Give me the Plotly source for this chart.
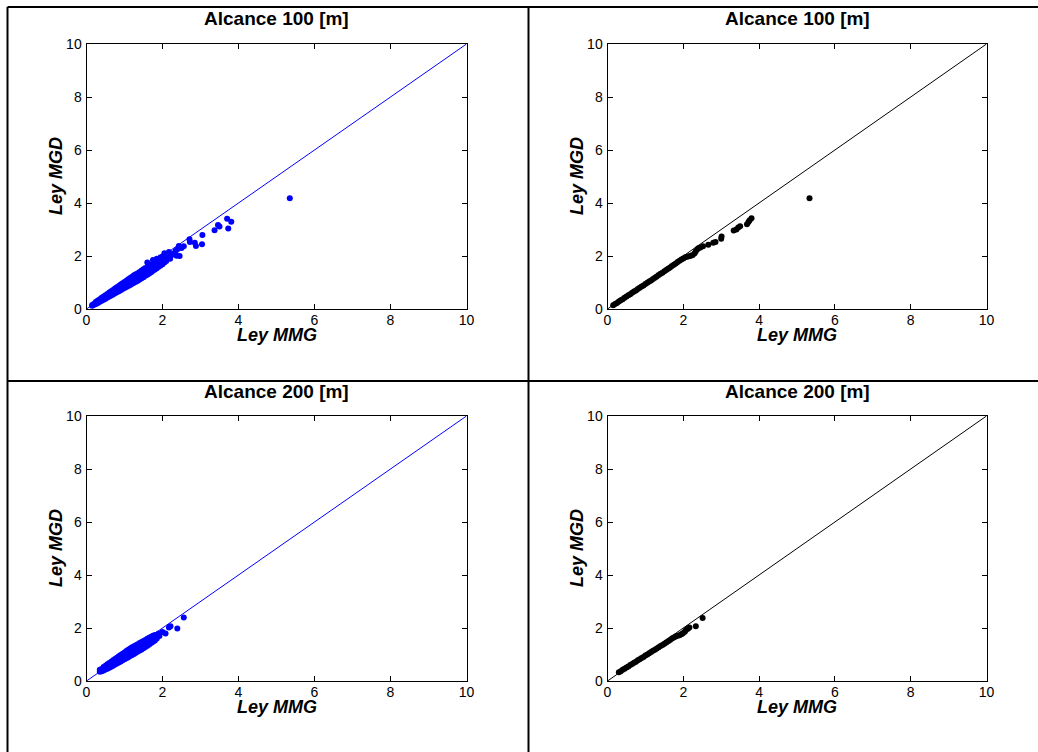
import plotly.graph_objects as go

# ---------------- data ----------------
# Top-left: Alcance 100 [m], point cloud (blue)
TL_x = [0.15,0.15,0.2,0.2,0.25,0.25,0.25,0.3,0.3,0.3,0.35,0.35,0.35,0.4,0.4,0.4,0.45,0.45,0.45,0.5,0.5,0.5,
        0.55,0.55,0.55,0.6,0.6,0.6,0.65,0.65,0.65,0.7,0.7,0.7,0.75,0.75,0.75,0.8,0.8,0.8,0.85,0.85,0.85,
        0.9,0.9,0.9,0.95,0.95,0.95,1.0,1.0,1.0,1.05,1.05,1.05,1.1,1.1,1.1,1.15,1.15,1.15,1.2,1.2,1.2,
        1.25,1.25,1.25,1.3,1.3,1.3,1.35,1.35,1.35,1.4,1.4,1.4,1.45,1.45,1.45,1.5,1.5,1.5,1.55,1.55,1.55,
        1.6,1.6,1.6,1.65,1.65,1.65,1.7,1.7,1.7,1.75,1.75,1.75,1.8,1.8,1.8,1.85,1.85,1.85,1.9,1.9,1.9,
        1.95,1.95,1.95,2.0,2.0,2.0,2.05,2.05,2.05,2.1,2.1,
        2.15,2.17,2.2,2.21,2.25,2.3,2.35,2.37,2.4,2.43,2.45,2.5,2.56,2.71,2.72,2.85,2.88,3.04,3.05,
        3.37,3.46,3.5,3.7,3.73,3.81,5.35]
TL_y = [0.12,0.15,0.16,0.2,0.19,0.24,0.27,0.23,0.28,0.32,0.27,0.32,0.37,0.31,0.37,0.42,0.35,0.41,0.47,0.39,0.46,0.52,
        0.43,0.5,0.57,0.47,0.55,0.62,0.51,0.59,0.67,0.55,0.64,0.72,0.59,0.68,0.77,0.63,0.73,0.82,0.67,0.77,0.87,
        0.71,0.82,0.92,0.75,0.86,0.97,0.79,0.9,1.02,0.83,0.95,1.07,0.87,0.99,1.12,0.91,1.04,1.17,0.95,1.08,1.22,
        0.99,1.13,1.27,1.03,1.17,1.31,1.07,1.22,1.35,1.11,1.26,1.4,1.16,1.31,1.45,1.2,1.35,1.5,1.25,1.4,1.55,
        1.29,1.44,1.75,1.34,1.49,1.62,1.39,1.53,1.68,1.44,1.58,1.85,1.49,1.62,1.78,1.54,1.68,1.9,1.59,1.73,1.88,
        1.64,1.78,1.95,1.69,1.82,1.98,1.75,1.88,2.1,1.81,1.95,
        1.95,2.15,1.9,2.0,2.05,2.1,2.2,2.01,2.26,2.38,2.0,2.3,2.37,2.63,2.53,2.5,2.38,2.44,2.79,
        2.97,3.17,3.11,3.41,3.04,3.29,4.18]

# Top-right: Alcance 100 [m], sorted pairs (black)
TR_x = [0.15,0.2,0.25,0.3,0.35,0.4,0.45,0.5,0.55,0.6,0.65,0.7,0.75,0.8,0.85,0.9,0.95,1.0,1.05,1.1,
        1.15,1.2,1.25,1.3,1.35,1.4,1.45,1.5,1.55,1.6,1.65,1.7,1.75,1.8,1.85,1.9,1.95,2.0,2.05,2.1,
        2.15,2.2,2.25,2.3,2.33,2.37,2.4,2.45,2.52,2.66,2.79,2.85,3.0,3.01,3.33,3.4,3.45,3.5,3.68,3.72,
        3.75,3.8,5.33]
TR_y = [0.14,0.19,0.23,0.28,0.33,0.37,0.42,0.47,0.52,0.56,0.61,0.66,0.7,0.75,0.8,0.85,0.89,0.94,0.99,1.04,
        1.08,1.13,1.18,1.23,1.28,1.33,1.37,1.42,1.47,1.52,1.57,1.62,1.67,1.72,1.77,1.82,1.87,1.91,1.95,1.97,
        1.99,2.01,2.04,2.1,2.18,2.25,2.29,2.32,2.37,2.42,2.5,2.53,2.65,2.74,2.96,3.0,3.08,3.12,3.2,3.28,
        3.35,3.42,4.18]

# Bottom-left: Alcance 200 [m], point cloud (blue)
BL_x = [0.35,0.35,0.4,0.4,0.45,0.45,0.45,0.5,0.5,0.5,0.55,0.55,0.55,0.6,0.6,0.6,0.65,0.65,0.65,0.7,0.7,0.7,
        0.75,0.75,0.75,0.8,0.8,0.8,0.85,0.85,0.85,0.9,0.9,0.9,0.95,0.95,0.95,1.0,1.0,1.0,1.05,1.05,1.05,
        1.1,1.1,1.1,1.15,1.15,1.15,1.2,1.2,1.2,1.25,1.25,1.25,1.3,1.3,1.3,1.35,1.35,1.35,1.4,1.4,1.4,
        1.45,1.45,1.45,1.5,1.5,1.5,1.55,1.55,1.55,1.6,1.6,1.6,1.65,1.65,1.65,1.7,1.7,1.7,1.75,1.75,1.75,
        1.8,1.8,1.8,1.85,1.85,1.9,1.92,2.0,2.08,2.17,2.21,2.39,2.56]
BL_y = [0.35,0.42,0.37,0.45,0.4,0.47,0.53,0.43,0.51,0.58,0.46,0.55,0.63,0.5,0.59,0.68,0.54,0.63,0.73,0.58,0.67,0.78,
        0.62,0.71,0.83,0.66,0.76,0.88,0.7,0.8,0.93,0.74,0.84,0.98,0.78,0.88,1.03,0.82,0.93,1.08,0.86,0.97,1.13,
        0.9,1.01,1.18,0.94,1.06,1.23,0.98,1.1,1.27,1.02,1.15,1.31,1.07,1.19,1.35,1.11,1.24,1.39,1.15,1.28,1.43,
        1.19,1.33,1.47,1.24,1.37,1.51,1.28,1.42,1.55,1.33,1.46,1.59,1.38,1.5,1.63,1.43,1.55,1.67,1.48,1.6,1.71,
        1.53,1.64,1.74,1.6,1.7,1.79,1.7,1.85,1.79,2.02,2.07,1.98,2.4]

# Bottom-right: Alcance 200 [m], sorted pairs (black)
BR_x = [0.3,0.35,0.4,0.45,0.5,0.55,0.6,0.65,0.7,0.75,0.8,0.85,0.9,0.95,1.0,1.05,1.1,1.15,1.2,1.25,
        1.3,1.35,1.4,1.45,1.5,1.55,1.6,1.65,1.7,1.75,1.8,1.85,1.9,1.95,1.99,2.04,2.07,2.12,2.16,2.33,2.51]
BR_y = [0.33,0.37,0.42,0.46,0.51,0.55,0.6,0.64,0.69,0.73,0.78,0.82,0.87,0.91,0.96,1.0,1.05,1.09,1.14,1.18,
        1.23,1.27,1.32,1.36,1.41,1.45,1.5,1.55,1.6,1.64,1.68,1.71,1.73,1.76,1.8,1.86,1.92,1.97,2.02,2.07,2.38]

REF = [0, 10]
TICKS = [0, 2, 4, 6, 8, 10]
TITLES = ["Alcance 100 [m]", "Alcance 100 [m]", "Alcance 200 [m]", "Alcance 200 [m]"]
XLABEL = "Ley MMG"
YLABEL = "Ley MGD"

W, H = 1038, 752
FONT = "Arial, Liberation Sans, Helvetica, sans-serif"

# panel pixel boxes: (left, right, top, bottom)
boxes = [(86.5, 466.5, 44, 309), (607.5, 986.5, 44, 309),
         (86.5, 466.5, 416, 681), (607.5, 986.5, 416, 681)]
panels = [(TL_x, TL_y, "#0000ff"), (TR_x, TR_y, "#000000"),
          (BL_x, BL_y, "#0000ff"), (BR_x, BR_y, "#000000")]

fig = go.Figure()
annotations = []
layout = {}
for i, ((px, py, col), (l, r, t, b)) in enumerate(zip(panels, boxes)):
    n = "" if i == 0 else str(i + 1)
    xa, ya = "x" + n, "y" + n
    fig.add_trace(go.Scatter(x=REF, y=REF, mode="lines", line=dict(color=col, width=1),
                             xaxis=xa, yaxis=ya, showlegend=False, hoverinfo="skip"))
    fig.add_trace(go.Scatter(x=px, y=py, mode="markers", marker=dict(color=col, size=6, line=dict(width=0)),
                             xaxis=xa, yaxis=ya, showlegend=False))
    common = dict(range=[0, 10], tickvals=TICKS, ticks="inside", ticklen=5, tickwidth=1,
                  tickcolor="black", showline=True, linecolor="black", linewidth=1, mirror="ticks",
                  showgrid=False, zeroline=False, tickfont=dict(family=FONT, size=14, color="black"),
                  fixedrange=True, automargin=False)
    layout["xaxis" + n] = dict(common, domain=[l / W, r / W], anchor=ya, ticklabelstandoff=-2)
    layout["yaxis" + n] = dict(common, domain=[1 - b / H, 1 - t / H], anchor=xa, ticklabelstandoff=1)
    cx = (l + r) / 2
    annotations.append(dict(text="<b>%s</b>" % TITLES[i], x=cx / W, y=1 - (t - 25) / H,
                            xref="paper", yref="paper", xanchor="center", yanchor="middle",
                            showarrow=False, font=dict(family=FONT, size=19, color="black")))
    annotations.append(dict(text="<b><i>%s</i></b>" % XLABEL, x=cx / W, y=1 - (b + 26) / H,
                            xref="paper", yref="paper", xanchor="center", yanchor="middle",
                            showarrow=False, font=dict(family=FONT, size=18, color="black")))
    annotations.append(dict(text="<b><i>%s</i></b>" % YLABEL, x=(l - 31) / W, y=1 - ((t + b) / 2) / H,
                            xref="paper", yref="paper", xanchor="center", yanchor="middle",
                            textangle=-90, showarrow=False,
                            font=dict(family=FONT, size=18, color="black")))

shapes = []
def line(x0, y0, x1, y1):
    shapes.append(dict(type="line", xref="paper", yref="paper",
                       x0=x0 / W, y0=1 - y0 / H, x1=x1 / W, y1=1 - y1 / H,
                       line=dict(color="black", width=2)))
line(7.5, 7, 7.5, H)
line(7.5, 7, W, 7)
line(528.5, 7, 528.5, H)
line(7.5, 381, W, 381)

fig.update_layout(width=W, height=H, margin=dict(l=0, r=0, t=0, b=0, autoexpand=False),
                  paper_bgcolor="white", plot_bgcolor="white",
                  annotations=annotations, shapes=shapes, **layout)
fig.write_html("out.html")
